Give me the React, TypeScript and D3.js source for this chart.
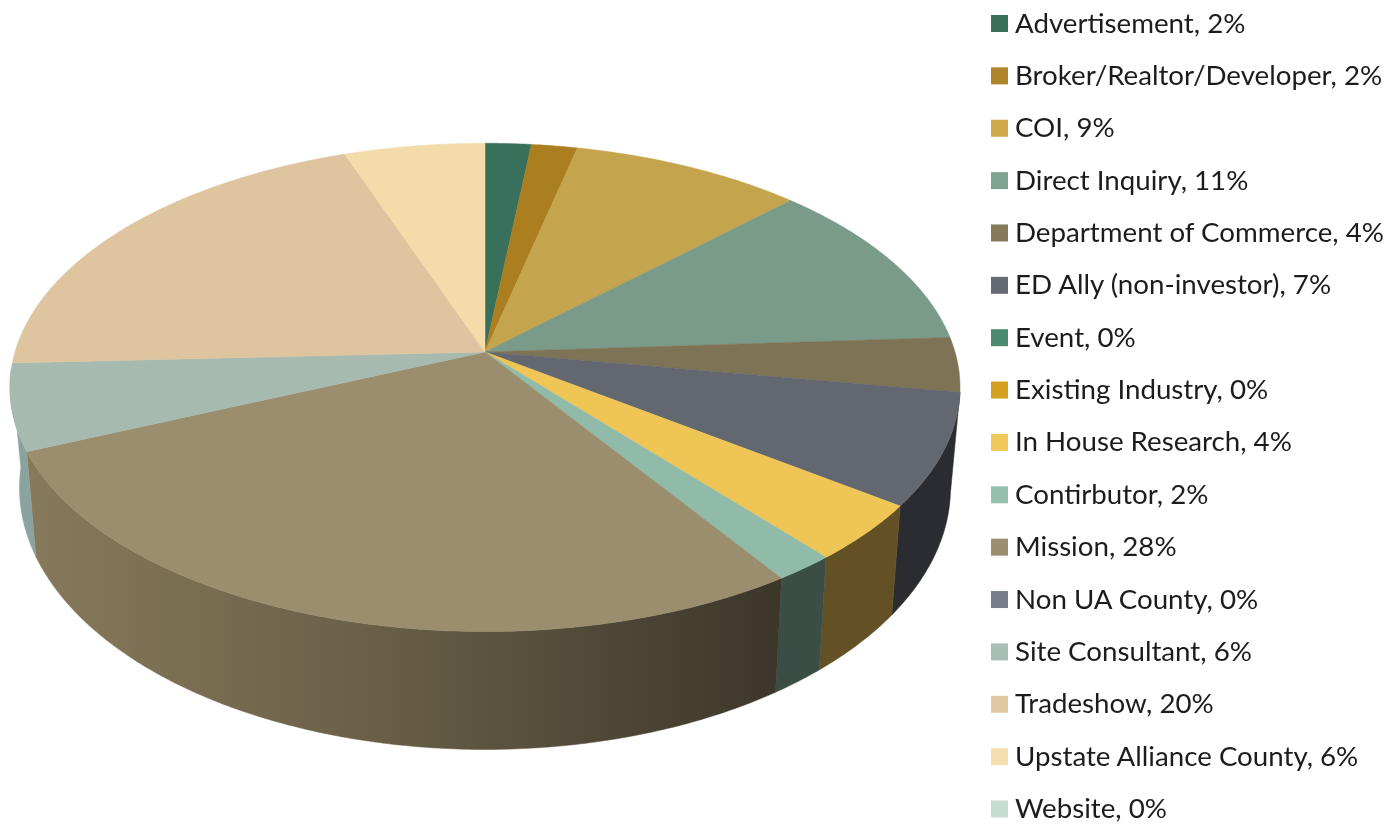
import React from "react";
import * as d3 from "d3";

const categories = ["Advertisement","Broker/Realtor/Developer","COI","Direct Inquiry","Department of Commerce","ED Ally (non-investor)","Event","Existing Industry","In House Research","Contirbutor","Mission","Non UA County","Site Consultant","Tradeshow","Upstate Alliance County","Website"];
const labelPercents = [2,2,9,11,4,7,0,0,4,2,28,0,6,20,6,0];
const shares = [1.8,1.8,9.1,11.3,3.6,7.4,0,0,3.8,1.8,27.9,0,5.7,20.2,5.5,0];
const topColors = ["#38705c","#ab7e20","#c4a44c","#7a9a8a","#7f7355","#63676f","#4a8a70","#d4a020","#efc556","#90bba9","#9b8e6f","#717684","#a6bab0","#dfc59f","#f3dbaa","#c2dccf"];
const legendColors = ["#38705c","#b0842a","#cfa94a","#7fa392","#85795a","#656a75","#4a8a70","#d4a020","#f0c95a","#95c0ae","#9b8e6f","#777c8a","#a8bfb5","#e2c9a2","#f5dfae","#c4ddd0"];
const wallColors: (string | null)[] = [null,null,null,null,null,"#2a2c31",null,null,"#635024","#3b4e45","url(#missionWall)",null,"#8ba39f",null,null,null];

const W = 1391, H = 824;
const cx = 485, cy = 352, R = 470, RK = 239, P = 0.145;
const wallFrom = (95 * Math.PI) / 180, wallTo = (266 * Math.PI) / 180;

const project = (a: number, r = 1): [number, number] => {
  const X = Math.sin(a) * r, Y = -Math.cos(a) * r;
  const s = 1 / (1 - P * Y);
  return [cx + R * X * s, cy + RK * Y * s];
};
const projectBottom = (a: number): [number, number] => {
  const [x, y] = project(a);
  return [cx + (x - cx) * 0.98, 557 + (y - 452) * 1.072];
};
const sample = (a0: number, a1: number) => {
  const n = Math.max(2, Math.ceil(Math.abs(a1 - a0) / 0.01));
  return d3.range(n + 1).map((i) => a0 + ((a1 - a0) * i) / n);
};
const line = d3.line<[number, number]>().x((d) => d[0]).y((d) => d[1]);

export default function App() {
  const arcs = d3.pie<number>().sort(null).startAngle(0).endAngle(2 * Math.PI)(shares);
  const legendY = d3.scalePoint<string>().domain(categories).range([23.5, 809]);

  return (
    <svg width={W} height={H} viewBox={`0 0 ${W} ${H}`} style={{ position: "absolute", left: 0, top: 0, background: "#fff" }}>
      <defs>
        <linearGradient id="missionWall" gradientUnits="userSpaceOnUse" x1={30} x2={775} y1={0} y2={0}>
          <stop offset="0" stopColor="#87795b" />
          <stop offset="0.45" stopColor="#6a6048" />
          <stop offset="1" stopColor="#3c372a" />
        </linearGradient>
        <filter id="soft" x="-5%" y="-20%" width="110%" height="140%">
          <feGaussianBlur stdDeviation="0.55" />
        </filter>
      </defs>

      <g>
        {arcs.map((d, i) => {
          const a0 = Math.max(d.startAngle, wallFrom), a1 = Math.min(d.endAngle, wallTo);
          if (!wallColors[i] || a1 <= a0) return null;
          const angles = sample(a0, a1);
          const pts = [...angles.map((a) => project(a)), ...angles.slice().reverse().map((a) => projectBottom(a))];
          return <path key={i} d={line(pts) + "Z"} fill={wallColors[i] as string} stroke={wallColors[i] as string} strokeWidth={0.5} />;
        })}
      </g>

      <g>
        {arcs.map((d, i) => {
          if (d.endAngle <= d.startAngle) return null;
          const pts = [[cx, cy] as [number, number], ...sample(d.startAngle, d.endAngle).map((a) => project(a))];
          return <path key={i} d={line(pts) + "Z"} fill={topColors[i]} stroke={topColors[i]} strokeWidth={0.5} />;
        })}
      </g>

      <g>
        {categories.map((c, i) => (
          <rect key={c} x={991} y={(legendY(c) as number) - 8.5} width={17} height={17} fill={legendColors[i]} />
        ))}
      </g>
      <g filter="url(#soft)" fontFamily="Lato, 'Open Sans', sans-serif" fontSize={27.7} fill="#1c1c1c">
        {categories.map((c, i) => (
          <text key={c} x={1015} y={(legendY(c) as number) + 9}>{`${c}, ${labelPercents[i]}%`}</text>
        ))}
      </g>
    </svg>
  );
}
